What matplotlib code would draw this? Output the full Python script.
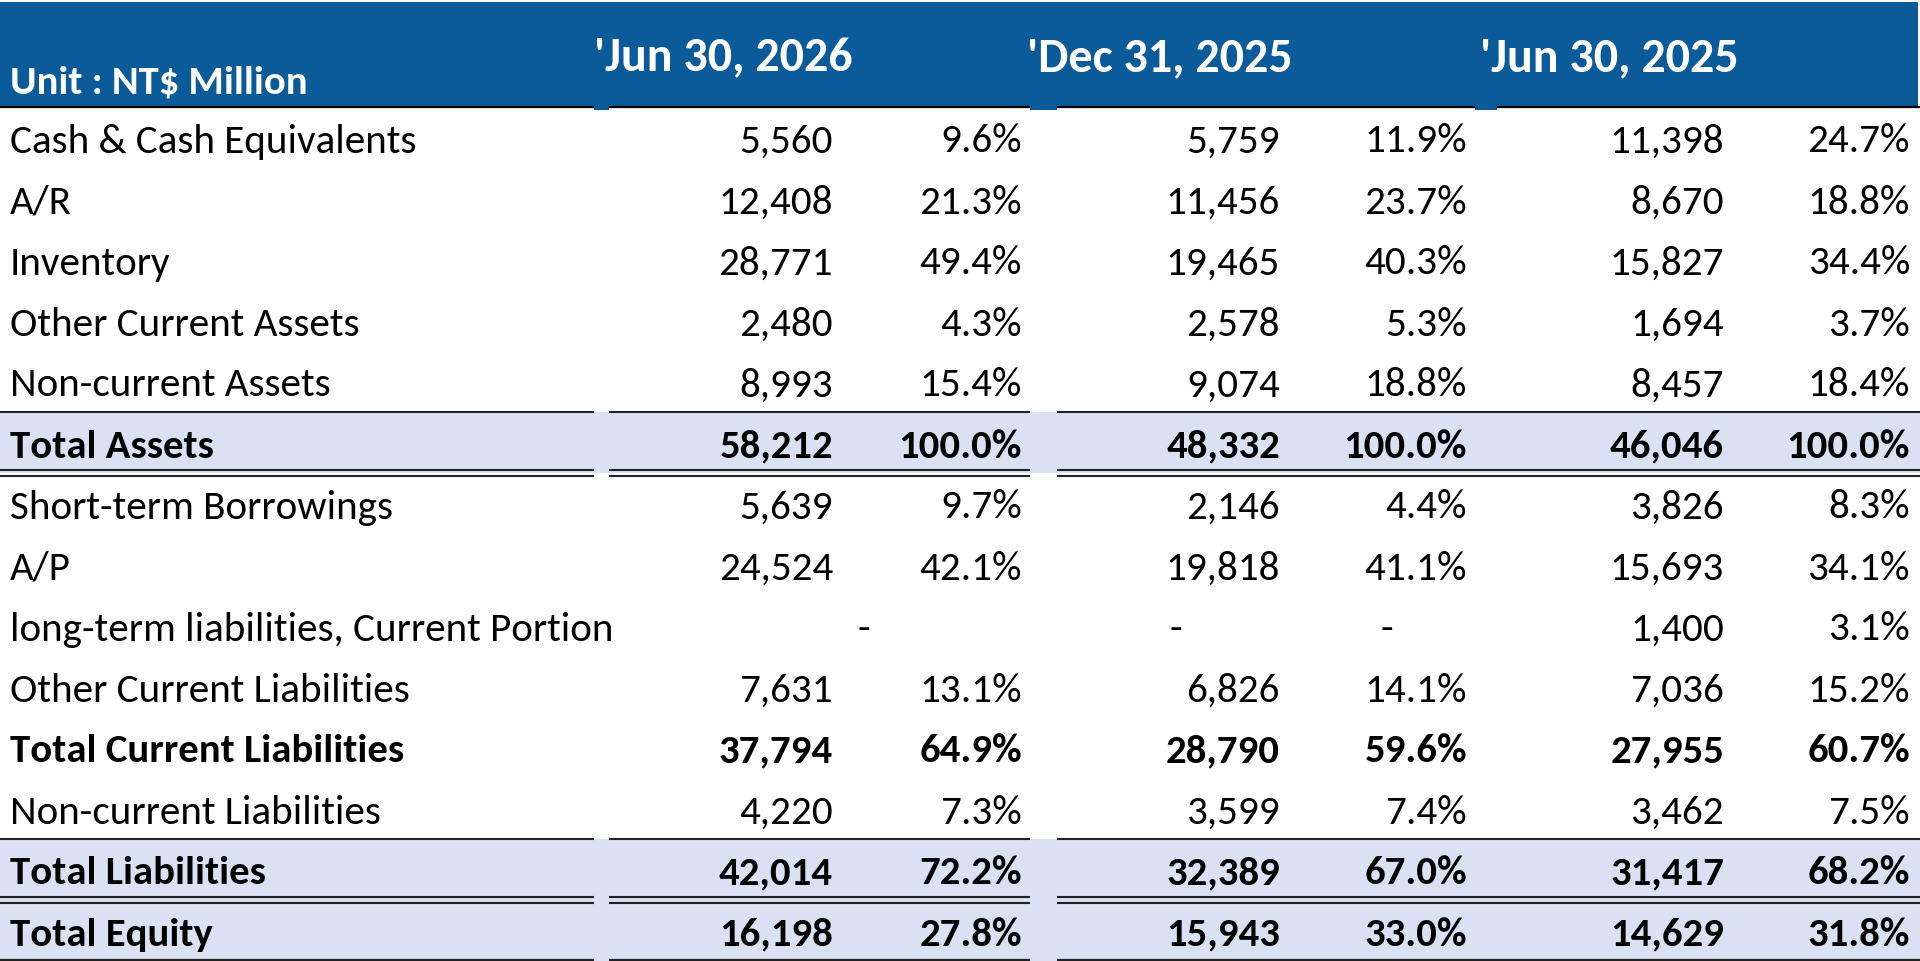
import matplotlib
matplotlib.use('Agg')
import matplotlib.pyplot as plt
from matplotlib.patches import Rectangle

# balance sheet rows, NT$ million
labels = ['Cash & Cash Equivalents', 'A/R', 'Inventory', 'Other Current Assets',
          'Non-current Assets', 'Total Assets', 'Short-term Borrowings', 'A/P',
          'long-term liabilities, Current Portion', 'Other Current Liabilities',
          'Total Current Liabilities', 'Non-current Liabilities',
          'Total Liabilities', 'Total Equity']
periods = ["'Jun 30, 2026", "'Dec 31, 2025", "'Jun 30, 2025"]

# None -> "-" shown, '' -> empty cell
jun26_val = [5560, 12408, 28771, 2480, 8993, 58212, 5639, 24524, None, 7631, 37794, 4220, 42014, 16198]
jun26_pct = [9.6, 21.3, 49.4, 4.3, 15.4, 100.0, 9.7, 42.1, '', 13.1, 64.9, 7.3, 72.2, 27.8]
dec25_val = [5759, 11456, 19465, 2578, 9074, 48332, 2146, 19818, None, 6826, 28790, 3599, 32389, 15943]
dec25_pct = [11.9, 23.7, 40.3, 5.3, 18.8, 100.0, 4.4, 41.1, None, 14.1, 59.6, 7.4, 67.0, 33.0]
jun25_val = [11398, 8670, 15827, 1694, 8457, 46046, 3826, 15693, 1400, 7036, 27955, 3462, 31417, 14629]
jun25_pct = [24.7, 18.8, 34.4, 3.7, 18.4, 100.0, 8.3, 34.1, 3.1, 15.2, 60.7, 7.5, 68.2, 31.8]

bold_rows = [5, 10, 12, 13]
shaded_rows = [5, 12, 13]

BLUE = '#0B5B9B'
SHADE = '#D9E1F2'
FONT = ['Carlito', 'Lato', 'DejaVu Sans']

W, H = 1920, 961
fig = plt.figure(figsize=(W / 100, H / 100), dpi=100)
ax = fig.add_axes([0, 0, 1, 1])
ax.set_xlim(0, W)
ax.set_ylim(H, 0)
ax.axis('off')
renderer = fig.canvas.get_renderer()


def fit_size(text, target, weight='normal'):
    t = ax.text(0, 0, text, fontsize=20, family=FONT, weight=weight)
    w = t.get_window_extent(renderer).width
    t.remove()
    return 20 * target / w


body_fs = fit_size('long-term liabilities, Current Portion', 605)
bold_fs = fit_size('Total Current Liabilities', 394, 'bold')
date_fs = fit_size("'Jun 30, 2026", 258, 'bold')
unit_fs = fit_size('Unit : NT$ Million', 298, 'bold')

header_h = 107
row_h = 61
gaps = [(594, 609), (1030, 1057)]

# header band
ax.add_patch(Rectangle((0, 2), 1918, header_h - 2, color=BLUE, lw=0))
ax.text(10, 94, 'Unit : NT$ Million', color='white', fontsize=unit_fs,
        weight='bold', family=FONT, va='baseline')
for p, x in zip(periods, [594, 1027, 1480]):
    ax.text(x, 71, p, color='white', fontsize=date_fs, weight='bold',
            family=FONT, va='baseline')

# shaded total rows
for r in shaded_rows:
    ax.add_patch(Rectangle((0, header_h + r * row_h), W, row_h, color=SHADE, lw=0))


def hline(y, lw=1.5, color='#222222', gap_list=gaps):
    segs = [0]
    for a, b in gap_list:
        segs += [a, b]
    segs.append(W)
    for i in range(0, len(segs), 2):
        ax.plot([segs[i], segs[i + 1]], [y, y], color=color, lw=lw,
                solid_capstyle='butt')


hline(header_h, lw=1.6, color='black', gap_list=gaps + [(1475, 1497)])
for a, b in gaps + [(1475, 1497)]:
    ax.add_patch(Rectangle((a, header_h - 1), b - a, 3.5, color=BLUE, lw=0))

top_ta = header_h + 5 * row_h
hline(top_ta)
hline(top_ta + row_h - 3)
hline(top_ta + row_h + 3)
top_tl = header_h + 12 * row_h
hline(top_tl)
hline(top_tl + row_h - 3)
hline(top_tl + row_h + 3)
hline(H - 1.5, lw=1.6)

val_right = [833, 1280, 1724]
pct_right = [1022, 1467, 1910]
dash_val_x = [864, 1176, None]
dash_pct_x = [None, 1387, None]
cols = [(jun26_val, jun26_pct), (dec25_val, dec25_pct), (jun25_val, jun25_pct)]

for r, lab in enumerate(labels):
    base = header_h + r * row_h + 45.5
    bold = r in bold_rows
    fs = bold_fs if bold else body_fs
    wt = 'bold' if bold else 'normal'
    kw = dict(fontsize=fs, weight=wt, family=FONT, va='baseline', color='black')
    ax.text(10, base, lab, ha='left', **kw)
    for c, (vals, pcts) in enumerate(cols):
        v = vals[r]
        if v is None:
            ax.text(dash_val_x[c], base, '-', ha='center', **kw)
        elif v != '':
            ax.text(val_right[c], base, f'{v:,}', ha='right', **kw)
        p = pcts[r]
        if p is None:
            ax.text(dash_pct_x[c], base, '-', ha='center', **kw)
        elif p != '':
            ax.text(pct_right[c], base, f'{p:.1f}%', ha='right', **kw)

fig.savefig('out.png', dpi=100)
